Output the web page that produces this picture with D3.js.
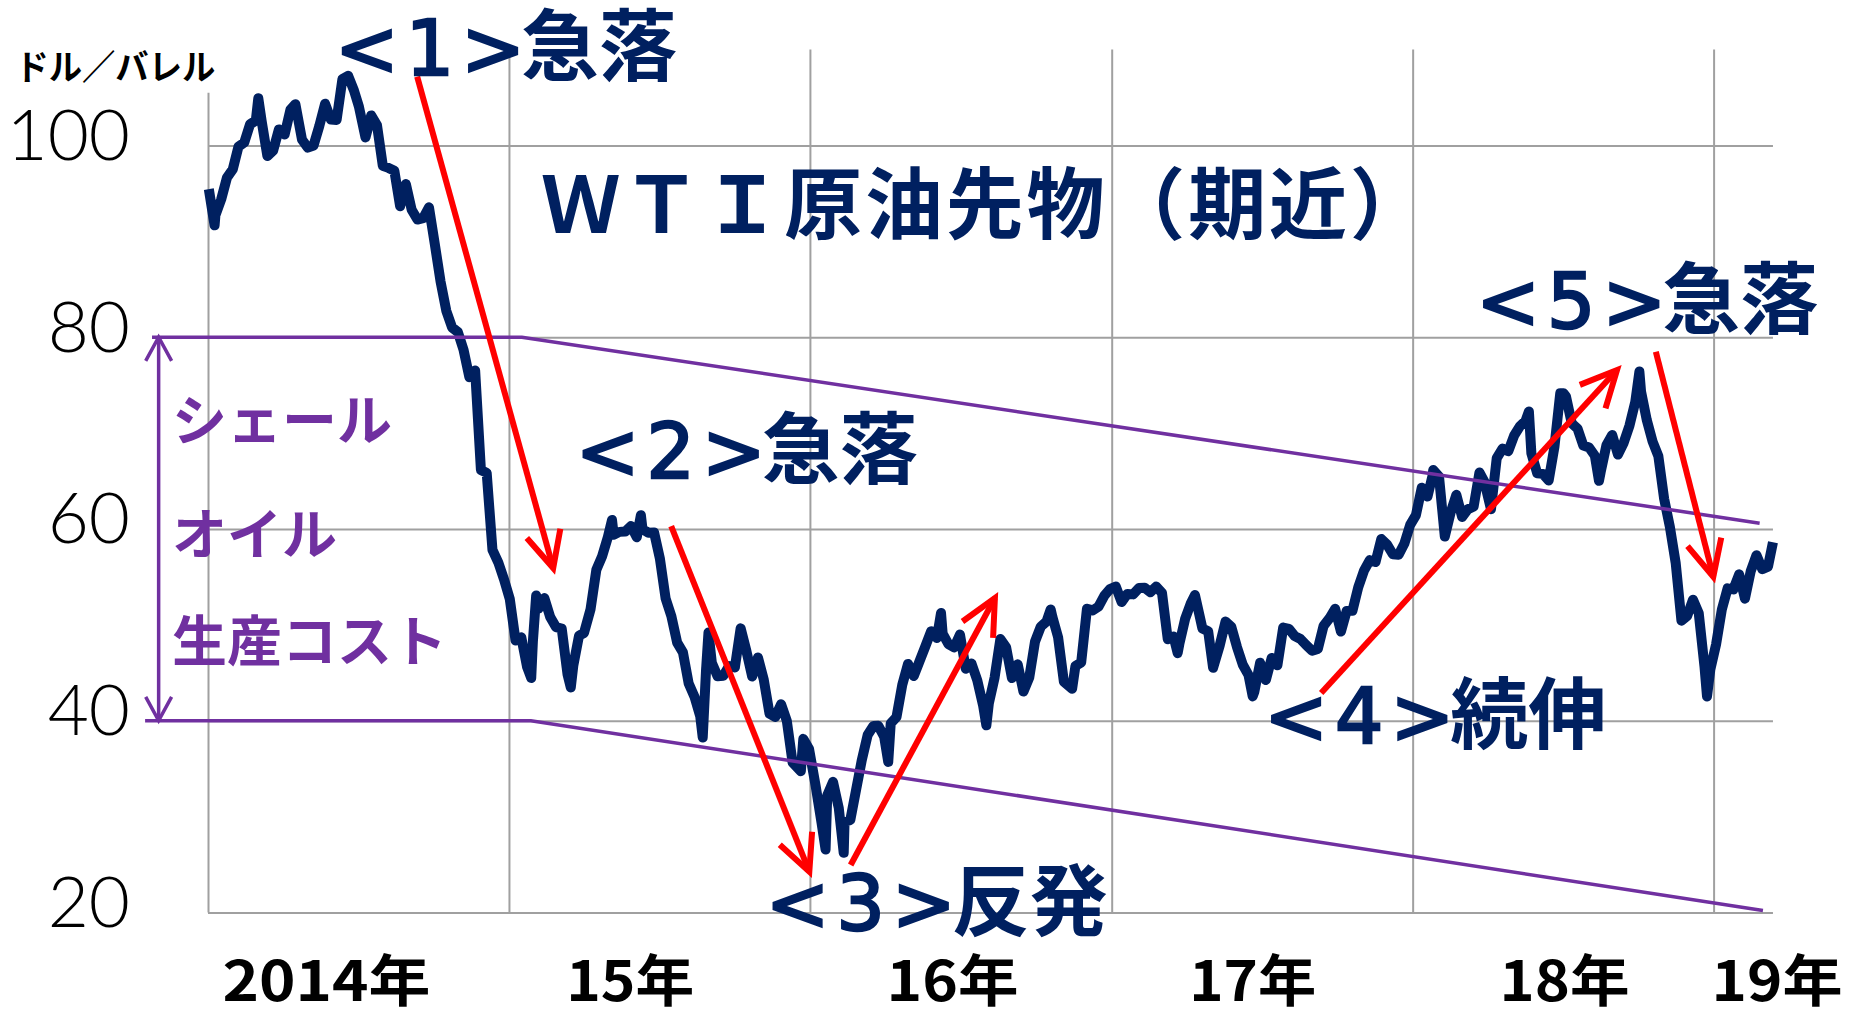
<!DOCTYPE html>
<html><head><meta charset="utf-8">
<script src="https://cdn.jsdelivr.net/npm/d3@7"></script>
<style>html,body{margin:0;padding:0;background:#fff;overflow:hidden}</style>
</head><body><svg id="c" width="1853" height="1017"></svg>
<script>
// ---------------- data ----------------
const yTicks = [20, 40, 60, 80, 100];
const yearStarts = ["2014-01-01","2015-01-01","2016-01-01","2017-01-01","2018-01-01","2019-01-01"];
const plotEnd = "2019-03-14";
const xLabels = ["2014年","15年","16年","17年","18年","19年"];
const xLabelAt = [2014.392, 2015.401, 2016.471, 2017.467, 2018.503, 2019.209];
const unitLabel = "ドル／バレル";
const unitAt = [2013.36, 106.82];
const titleText = "ＷＴＩ原油先物（期近）";
const titleAt = [2015.109, 90.86];

const wti2014 = [["2014-01-02",95.44],["2014-01-09",91.66],["2014-01-10",92.72],["2014-01-17",94.37],["2014-01-24",96.64],["2014-01-31",97.49],
["2014-02-07",99.88],["2014-02-14",100.30],["2014-02-21",102.20],["2014-02-28",102.59],["2014-03-03",104.92],["2014-03-07",102.58],
["2014-03-14",98.89],["2014-03-21",99.46],["2014-03-28",101.67],["2014-04-04",101.14],["2014-04-11",103.74],["2014-04-17",104.30],
["2014-04-25",100.60],["2014-05-02",99.76],["2014-05-09",99.99],["2014-05-16",102.02],["2014-05-23",104.35],["2014-05-30",102.71],
["2014-06-06",102.66],["2014-06-13",106.91],["2014-06-20",107.26],["2014-06-27",105.74],["2014-07-03",104.06],["2014-07-11",100.83],
["2014-07-18",103.13],["2014-07-25",102.09],["2014-08-01",97.88],["2014-08-08",97.65],["2014-08-15",97.35],["2014-08-22",93.65],
["2014-08-29",95.96],["2014-09-05",93.29],["2014-09-12",92.27],["2014-09-19",92.41],["2014-09-26",93.54],["2014-10-03",89.74],
["2014-10-10",85.82],["2014-10-17",82.75],["2014-10-24",81.01],["2014-10-31",80.54],["2014-11-07",78.65],["2014-11-14",75.82],
["2014-11-21",76.51],["2014-11-28",66.15],["2014-12-05",65.84],["2014-12-12",57.81],["2014-12-19",56.52],["2014-12-26",54.73]];
const wti2015 = [["2015-01-02",52.69],["2015-01-09",48.36],["2015-01-16",48.69],["2015-01-23",45.59],["2015-01-28",44.45],["2015-01-30",48.24],
["2015-02-03",53.05],["2015-02-06",51.69],["2015-02-13",52.78],["2015-02-20",50.81],["2015-02-27",49.76],["2015-03-06",49.61],
["2015-03-13",44.84],["2015-03-17",43.46],["2015-03-20",45.72],["2015-03-27",48.87],["2015-04-02",49.14],["2015-04-10",51.64],
["2015-04-17",55.74],["2015-04-24",57.15],["2015-05-01",59.15],["2015-05-06",60.93],["2015-05-08",59.39],["2015-05-15",59.69],
["2015-05-22",59.72],["2015-05-29",60.30],["2015-06-05",59.13],["2015-06-10",61.43],["2015-06-12",59.96],["2015-06-19",59.61],
["2015-06-26",59.63],["2015-07-03",56.93],["2015-07-10",52.74],["2015-07-17",50.89],["2015-07-24",48.14],["2015-07-31",47.12],
["2015-08-07",43.87],["2015-08-14",42.50],["2015-08-21",40.45],["2015-08-24",38.24],["2015-08-28",45.22],["2015-08-31",49.20],
["2015-09-04",46.05],["2015-09-11",44.63],["2015-09-18",44.68],["2015-09-25",45.70],["2015-10-02",45.54],["2015-10-09",49.63],
["2015-10-16",47.26],["2015-10-23",44.60],["2015-10-30",46.59],["2015-11-06",44.29],["2015-11-13",40.74],["2015-11-20",40.39],
["2015-11-27",41.71],["2015-12-04",39.97],["2015-12-11",35.62],["2015-12-21",34.73],["2015-12-24",38.10],["2015-12-31",37.04]];
const wti2016 = [["2016-01-08",33.16],["2016-01-15",29.42],["2016-01-20",26.55],["2016-01-22",32.19],["2016-01-29",33.62],["2016-02-05",30.89],
["2016-02-11",26.21],["2016-02-12",29.44],["2016-02-19",29.64],["2016-02-26",32.78],["2016-03-04",35.92],["2016-03-11",38.50],
["2016-03-18",39.44],["2016-03-24",39.46],["2016-03-31",38.34],["2016-04-05",35.70],["2016-04-08",39.72],["2016-04-15",40.36],
["2016-04-22",43.73],["2016-04-29",45.92],["2016-05-06",44.66],["2016-05-13",46.21],["2016-05-20",47.75],["2016-05-27",49.33],
["2016-06-03",48.62],["2016-06-08",51.23],["2016-06-10",49.07],["2016-06-17",47.98],["2016-06-24",47.64],["2016-07-01",48.99],
["2016-07-08",45.41],["2016-07-15",45.95],["2016-07-22",44.19],["2016-07-29",41.60],["2016-08-02",39.51],["2016-08-05",41.80],
["2016-08-12",44.49],["2016-08-19",48.52],["2016-08-26",47.64],["2016-09-02",44.44],["2016-09-09",45.88],["2016-09-16",43.03],
["2016-09-23",44.48],["2016-09-30",48.24],["2016-10-07",49.81],["2016-10-14",50.35],["2016-10-19",51.60],["2016-10-21",50.85],
["2016-10-28",48.70],["2016-11-04",44.07],["2016-11-14",43.32],["2016-11-18",45.69],["2016-11-25",46.06],["2016-12-02",51.68],
["2016-12-09",51.50],["2016-12-16",51.90],["2016-12-23",53.02],["2016-12-30",53.72]];
const wti2017 = [["2017-01-06",53.99],["2017-01-13",52.37],["2017-01-20",53.22],["2017-01-27",53.17],["2017-02-03",53.83],["2017-02-10",53.86],
["2017-02-17",53.40],["2017-02-24",53.99],["2017-03-03",53.33],["2017-03-10",48.49],["2017-03-17",48.78],["2017-03-22",47.04],
["2017-03-24",47.97],["2017-03-31",50.60],["2017-04-07",52.24],["2017-04-12",53.11],["2017-04-21",49.62],["2017-04-28",49.33],
["2017-05-04",45.52],["2017-05-12",47.84],["2017-05-19",50.33],["2017-05-26",49.80],["2017-06-02",47.66],["2017-06-09",45.83],
["2017-06-16",44.74],["2017-06-21",42.53],["2017-06-23",43.01],["2017-06-30",46.04],["2017-07-07",44.23],["2017-07-14",46.54],
["2017-07-21",45.77],["2017-07-28",49.71],["2017-08-04",49.58],["2017-08-11",48.82],["2017-08-18",48.51],["2017-08-25",47.87],
["2017-09-01",47.29],["2017-09-08",47.48],["2017-09-15",49.89],["2017-09-22",50.66],["2017-09-29",51.67],["2017-10-06",49.29],
["2017-10-13",51.45],["2017-10-20",51.47],["2017-10-27",53.90],["2017-11-03",55.64],["2017-11-10",56.74],["2017-11-17",56.55],
["2017-11-24",58.95],["2017-12-01",58.36],["2017-12-08",57.36],["2017-12-15",57.30],["2017-12-22",58.47],["2017-12-29",60.42]];
const wti2018 = [["2018-01-05",61.44],["2018-01-12",64.30],["2018-01-19",63.37],["2018-01-25",65.51],["2018-01-26",66.14],["2018-02-02",65.45],
["2018-02-09",59.20],["2018-02-16",61.68],["2018-02-23",63.55],["2018-03-02",61.25],["2018-03-09",62.04],["2018-03-16",62.34],
["2018-03-23",65.88],["2018-03-29",64.94],["2018-04-06",62.06],["2018-04-13",67.39],["2018-04-20",68.38],["2018-04-27",68.10],
["2018-05-04",69.72],["2018-05-11",70.70],["2018-05-18",71.28],["2018-05-22",72.24],["2018-05-25",67.88],["2018-06-01",65.81],
["2018-06-08",65.74],["2018-06-15",65.06],["2018-06-22",68.58],["2018-06-29",74.15],["2018-07-03",74.14],["2018-07-06",73.80],
["2018-07-13",71.01],["2018-07-20",70.46],["2018-07-27",68.69],["2018-08-03",68.49],["2018-08-10",67.63],["2018-08-15",65.01],
["2018-08-17",65.91],["2018-08-24",68.72],["2018-08-31",69.80],["2018-09-07",67.75],["2018-09-14",68.99],["2018-09-21",70.78],
["2018-09-28",73.25],["2018-10-03",76.41],["2018-10-05",74.34],["2018-10-12",71.34],["2018-10-19",69.12],["2018-10-26",67.59],
["2018-11-02",63.14],["2018-11-09",60.19],["2018-11-16",56.46],["2018-11-23",50.42],["2018-11-30",50.93],["2018-12-07",52.61],
["2018-12-14",51.20],["2018-12-21",45.59],["2018-12-24",42.53],["2018-12-28",45.33]];
const wti2019 = [["2019-01-04",47.96],["2019-01-11",51.59],["2019-01-18",53.80],["2019-01-25",53.69],["2019-02-01",55.26],["2019-02-08",52.72],
["2019-02-15",55.59],["2019-02-22",57.26],["2019-03-01",55.80],["2019-03-08",56.07],["2019-03-14",58.61]];

// shale-oil production cost band (decimal year, $/bbl)
const costUpper = [[2013.814, 80], [2015.043, 80], [2019.153, 60.6]];
const costLower = [[2013.791, 40], [2015.073, 40], [2019.164, 20.2]];
const costRange = [[2013.836, 80], [2013.836, 40]];
const costLabels = ["シェール", "オイル", "生産コスト"];
const costLabelAt = [[2013.880, 69.27], [2013.880, 57.38], [2013.880, 46.22]];

// trend arrows (from -> to), decimal year / $
const trendArrows = [
  [[2014.695, 107.17], [2015.147, 55.92]],
  [[2015.539, 60.30], [2015.998, 24.25]],
  [[2016.135, 24.94], [2016.613, 52.79]],
  [[2017.696, 42.88], [2018.679, 76.57]],
  [[2018.808, 78.48], [2018.999, 55.01]]
];
const annoNums = ["<1>", "<2>", "<3>", "<4>", "<5>"];
const annoWords = ["急落", "急落", "反発", "続伸", "急落"];
const annoAt = [[2014.452, 107.34], [2015.252, 65.31], [2015.883, 18.17], [2017.537, 37.67], [2018.241, 80.97]];

// ---------------- drawing ----------------
const NAVY = "#002060", PURPLE = "#7030A0", RED = "#FF0000", GRID = "#a0a0a0";
const CJK = "'Noto Sans CJK JP', 'Noto Sans CJK SC', sans-serif";
const svg = d3.select("#c");
svg.append("rect").attr("width", 1853).attr("height", 1017).attr("fill", "#fff");

const parse = d3.utcParse("%Y-%m-%d");
const dec = v => { const yr = Math.floor(v), s = Date.UTC(yr, 0, 1), e = Date.UTC(yr + 1, 0, 1); return new Date(s + (v - yr) * (e - s)); };
const wti = [].concat(wti2014, wti2015, wti2016, wti2017, wti2018, wti2019);

const x = d3.scaleUtc().domain([parse(yearStarts[0]), parse(yearStarts[5])]).range([208, 1713.6]);
const y = d3.scaleLinear().domain([20, 100]).range([912.4, 145.4]);
const x0 = x(parse(yearStarts[0])), x1 = x(parse(plotEnd));
const P = d => [x(dec(d[0])), y(d[1])];

// horizontal gridlines + y tick labels
const gy = svg.append("g").attr("transform", `translate(${x0},0)`)
  .call(d3.axisLeft(y).tickValues(yTicks).tickSize(-(x1 - x0)).tickPadding(78));
gy.select(".domain").remove();
gy.selectAll(".tick line").attr("stroke", GRID).attr("stroke-width", 2);
gy.selectAll(".tick text").attr("font-family", "Lato, 'Open Sans', sans-serif").attr("font-weight", 300)
  .attr("font-size", 71).attr("fill", "#000").attr("dy", 14);

// vertical gridlines at year starts
const gx = svg.append("g").attr("transform", `translate(0,${y(20)})`)
  .call(d3.axisBottom(x).tickValues(yearStarts.map(parse)).tickSize(-(y(20) - y(110))).tickFormat(""));
gx.select(".domain").remove();
gx.selectAll(".tick line").attr("stroke", GRID).attr("stroke-width", 2);
gx.select(".tick line").attr("y2", -(y(20) - y(105.5)));

// x labels
const xlw = [208, 128, 132, 127, 130, 131];
const gl = svg.append("g").attr("transform", `translate(0,${y(20)})`)
  .call(d3.axisBottom(x).tickValues(xLabelAt.map(dec)).tickSize(0).tickFormat((d, i) => xLabels[i]));
gl.select(".domain").remove();
gl.selectAll(".tick text").attr("font-family", CJK).attr("font-weight", 700).attr("font-size", 56)
  .attr("fill", "#000").attr("y", 1001 - y(20)).attr("dy", 0)
  .attr("textLength", (d, i) => xlw[i]).attr("lengthAdjust", "spacingAndGlyphs");

// WTI line
svg.append("path").datum(wti)
  .attr("d", d3.line().x(d => x(parse(d[0]))).y(d => y(d[1])))
  .attr("fill", "none").attr("stroke", NAVY).attr("stroke-width", 10).attr("stroke-linejoin", "round");

// cost band
const lineP = d3.line().x(d => P(d)[0]).y(d => P(d)[1]);
[costUpper, costLower].forEach(c => svg.append("path").datum(c).attr("d", lineP)
  .attr("fill", "none").attr("stroke", PURPLE).attr("stroke-width", 3.5));

function head(p, q, len, ang) {
  const a = Math.atan2(p[1] - q[1], p[0] - q[0]);
  return [[q[0] + len * Math.cos(a + ang), q[1] + len * Math.sin(a + ang)], q,
          [q[0] + len * Math.cos(a - ang), q[1] + len * Math.sin(a - ang)]];
}
const rp = costRange.map(P);
svg.append("line").attr("x1", rp[0][0]).attr("y1", rp[0][1]).attr("x2", rp[1][0]).attr("y2", rp[1][1])
  .attr("stroke", PURPLE).attr("stroke-width", 3.5);
[[rp[1], rp[0]], [rp[0], rp[1]]].forEach(([a, b]) => svg.append("path")
  .attr("d", d3.line()(head(a, b, 27, 0.5))).attr("fill", "none").attr("stroke", PURPLE).attr("stroke-width", 3.5));

costLabels.forEach((t, i) => svg.append("text").attr("x", P(costLabelAt[i])[0]).attr("y", P(costLabelAt[i])[1])
  .attr("font-family", CJK).attr("font-weight", 700).attr("font-size", 55).attr("fill", PURPLE).text(t));

// red arrows
trendArrows.forEach(([a, b]) => {
  const pa = P(a), pb = P(b);
  svg.append("line").attr("x1", pa[0]).attr("y1", pa[1]).attr("x2", pb[0]).attr("y2", pb[1])
    .attr("stroke", RED).attr("stroke-width", 6);
  svg.append("path").attr("d", d3.line()(head(pa, pb, 40, 0.45)))
    .attr("fill", "none").attr("stroke", RED).attr("stroke-width", 6);
});

// title
svg.append("text").attr("x", P(titleAt)[0]).attr("y", P(titleAt)[1])
  .attr("font-family", CJK).attr("font-weight", 700).attr("font-size", 78).attr("fill", NAVY)
  .attr("letter-spacing", 2.8).text(titleText);

// unit
svg.append("text").attr("x", P(unitAt)[0]).attr("y", P(unitAt)[1])
  .attr("font-family", CJK).attr("font-weight", 700).attr("font-size", 35).attr("fill", "#000")
  .attr("textLength", 200).attr("lengthAdjust", "spacingAndGlyphs").text(unitLabel);

// annotations
annoAt.forEach((a, i) => {
  const p = P(a);
  svg.append("text").attr("x", p[0] - 9).attr("y", p[1])
    .attr("font-family", "'DejaVu Sans', sans-serif").attr("font-size", 76)
    .attr("textLength", 190).attr("lengthAdjust", "spacing")
    .attr("fill", NAVY).attr("stroke", NAVY).attr("stroke-width", 2.5).text(annoNums[i]);
  svg.append("text").attr("x", p[0] + 177).attr("y", p[1])
    .attr("font-family", CJK).attr("font-weight", 700).attr("font-size", 78).attr("fill", NAVY).text(annoWords[i]);
});
</script>
</body></html>
